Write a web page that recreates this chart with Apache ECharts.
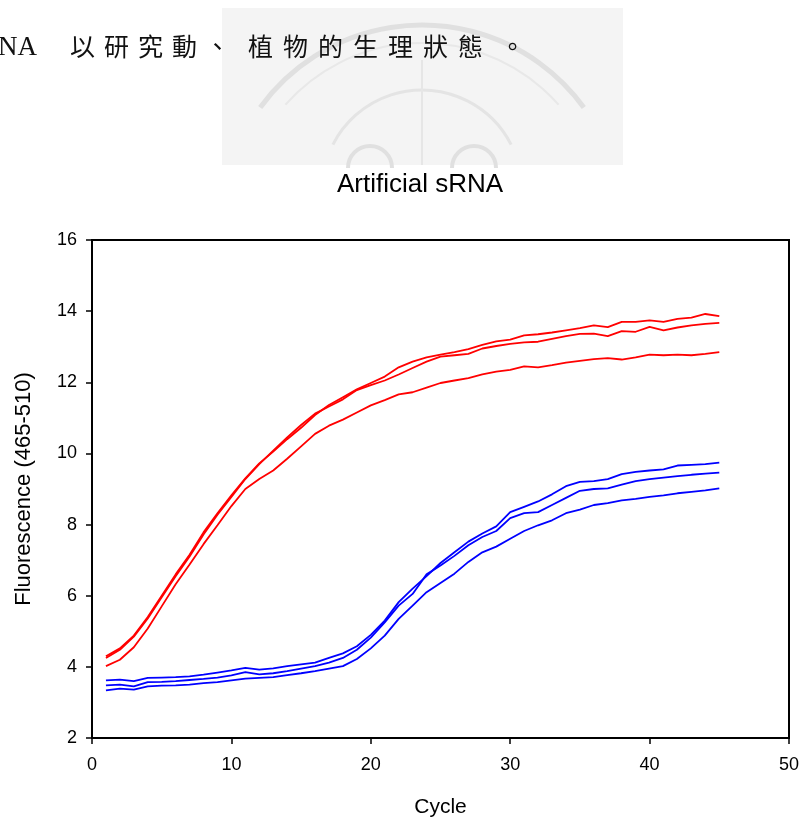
<!DOCTYPE html>
<html>
<head>
<meta charset="utf-8">
<style>
html,body{margin:0;padding:0;background:#fff;}
#c{width:803px;height:823px;}
</style>
<script src="https://cdn.jsdelivr.net/npm/echarts@6/dist/echarts.min.js"></script>
</head>
<body>
<div id="c"></div>
<script>
// ---- data ----
const cycles = [1,2,3,4,5,6,7,8,9,10,11,12,13,14,15,16,17,18,19,20,21,22,23,24,25,26,27,28,29,30,31,32,33,34,35,36,37,38,39,40,41,42,43,44,45];
const red1 = [4.30,4.52,4.88,5.40,6.00,6.60,7.15,7.78,8.32,8.82,9.30,9.72,10.05,10.40,10.72,11.08,11.36,11.58,11.80,11.98,12.16,12.42,12.58,12.70,12.78,12.85,12.93,13.05,13.15,13.20,13.32,13.35,13.40,13.46,13.52,13.60,13.55,13.70,13.70,13.74,13.70,13.78,13.82,13.92,13.86];
const red2 = [4.25,4.48,4.85,5.36,5.96,6.55,7.10,7.72,8.28,8.78,9.28,9.70,10.08,10.45,10.80,11.12,11.32,11.52,11.78,11.92,12.05,12.22,12.40,12.58,12.72,12.76,12.80,12.95,13.02,13.08,13.12,13.14,13.22,13.30,13.36,13.37,13.30,13.44,13.42,13.56,13.46,13.54,13.60,13.64,13.67];
const red3 = [4.02,4.20,4.55,5.08,5.70,6.32,6.88,7.45,7.98,8.52,9.00,9.28,9.52,9.85,10.20,10.55,10.78,10.95,11.15,11.35,11.50,11.66,11.72,11.85,11.98,12.05,12.12,12.22,12.30,12.35,12.45,12.42,12.48,12.55,12.60,12.65,12.68,12.64,12.70,12.78,12.76,12.78,12.76,12.80,12.85];
const blue1 = [3.62,3.64,3.60,3.69,3.70,3.71,3.73,3.78,3.84,3.90,3.97,3.92,3.96,4.02,4.07,4.12,4.25,4.38,4.58,4.90,5.30,5.82,6.20,6.55,6.92,7.22,7.52,7.75,7.95,8.35,8.50,8.65,8.85,9.08,9.20,9.22,9.28,9.42,9.48,9.52,9.55,9.66,9.68,9.70,9.74];
const blue2 = [3.48,3.50,3.45,3.57,3.58,3.60,3.63,3.66,3.70,3.76,3.85,3.79,3.82,3.88,3.95,4.02,4.12,4.25,4.48,4.82,5.25,5.72,6.05,6.60,6.85,7.12,7.42,7.65,7.82,8.18,8.32,8.35,8.55,8.75,8.95,9.00,9.02,9.12,9.22,9.28,9.32,9.36,9.40,9.43,9.46];
const blue3 = [3.34,3.39,3.36,3.45,3.47,3.48,3.50,3.54,3.57,3.62,3.67,3.69,3.71,3.77,3.82,3.88,3.95,4.02,4.22,4.52,4.88,5.35,5.72,6.10,6.36,6.62,6.95,7.22,7.38,7.60,7.82,7.98,8.12,8.32,8.42,8.55,8.60,8.68,8.72,8.78,8.82,8.88,8.92,8.96,9.02];
const titleText = 'Artificial sRNA';
const xName = 'Cycle';
const yName = 'Fluorescence (465-510)';
const headerChars = ['NA','以','研','究','動','、','植','物','的','生','理','狀','態','。'];

// ---- chart ----
const chart = echarts.init(document.getElementById('c'), null, {renderer:'canvas'});
const pair = arr => cycles.map((c,i)=>[c,arr[i]]);
const mk = (name, arr, color) => ({
  name, type:'line', data: pair(arr), showSymbol:false, symbol:'none', smooth:false,
  lineStyle:{color, width:1.8}, itemStyle:{color}, animation:false, z:3
});
const font = '"Liberation Sans", Arial, sans-serif';

// header text elements
const headerEls = [];
const headerX = [-2, 70, 104, 138, 172, 205, 248, 283, 318, 353, 388, 423, 458, 500];
headerChars.forEach((ch,i)=>{
  headerEls.push({
    type:'text', left: headerX[i], top: 34, z:10,
    style:{text:ch, fill:'#111', font: (i===0 ? '27px "Liberation Serif", serif' : '25px "Noto Sans CJK TC", sans-serif')}
  });
});

chart.setOption({
  backgroundColor:'#fff',
  animation:false,
  title:{text:titleText, left:337, top:172, textStyle:{fontFamily:font, fontSize:26, fontWeight:'normal', color:'#000'}, padding:0},
  graphic:[
    {type:'rect', shape:{x:222, y:8, width:401, height:157}, style:{fill:'#f4f4f4'}, z:0, silent:true},
    {type:'arc', shape:{cx:422, cy:225, r:200, startAngle:Math.PI*1.2, endAngle:Math.PI*1.8}, style:{stroke:'#e0e0e0', lineWidth:5, fill:null}, z:1, silent:true},
    {type:'arc', shape:{cx:422, cy:225, r:182, startAngle:Math.PI*1.23, endAngle:Math.PI*1.77}, style:{stroke:'#e8e8e8', lineWidth:2, fill:null}, z:1, silent:true},
    {type:'arc', shape:{cx:422, cy:190, r:100, startAngle:Math.PI*1.15, endAngle:Math.PI*1.85}, style:{stroke:'#e4e4e4', lineWidth:3, fill:null}, z:1, silent:true},
    {type:'arc', shape:{cx:370, cy:168, r:22, startAngle:Math.PI, endAngle:Math.PI*2}, style:{stroke:'#e0e0e0', lineWidth:4, fill:null}, z:1, silent:true},
    {type:'arc', shape:{cx:474, cy:168, r:22, startAngle:Math.PI, endAngle:Math.PI*2}, style:{stroke:'#e0e0e0', lineWidth:4, fill:null}, z:1, silent:true},
    {type:'line', shape:{x1:422, y1:60, x2:422, y2:165}, style:{stroke:'#e6e6e6', lineWidth:2}, z:1, silent:true},
    ...headerEls
  ],
  grid:{left:92, right:14, top:240, bottom:82, show:true, borderColor:'#000', borderWidth:2, backgroundColor:'transparent'},
  xAxis:{
    type:'value', min:0, max:50, interval:10,
    name:xName, nameLocation:'middle', nameGap:59,
    nameTextStyle:{fontFamily:font, fontSize:21, color:'#000'},
    axisLine:{show:true, lineStyle:{color:'#000', width:2}},
    axisTick:{show:true, inside:false, length:6, lineStyle:{color:'#000', width:1.5}},
    axisLabel:{fontFamily:font, fontSize:18, color:'#000', margin:18},
    splitLine:{show:false}
  },
  yAxis:{
    type:'value', min:2, max:16, interval:2,
    name:yName, nameLocation:'middle', nameGap:57, nameRotate:90,
    nameTextStyle:{fontFamily:font, fontSize:22, color:'#000'},
    axisLine:{show:true, lineStyle:{color:'#000', width:2}},
    axisTick:{show:true, inside:false, length:6, lineStyle:{color:'#000', width:1.5}},
    axisLabel:{fontFamily:font, fontSize:18, color:'#000', margin:15},
    splitLine:{show:false}
  },
  series:[
    mk('R1', red1, '#ff0000'),
    mk('R2', red2, '#ff0000'),
    mk('R3', red3, '#ff0000'),
    mk('B1', blue1, '#0000ff'),
    mk('B2', blue2, '#0000ff'),
    mk('B3', blue3, '#0000ff')
  ]
});
</script>
</body>
</html>
